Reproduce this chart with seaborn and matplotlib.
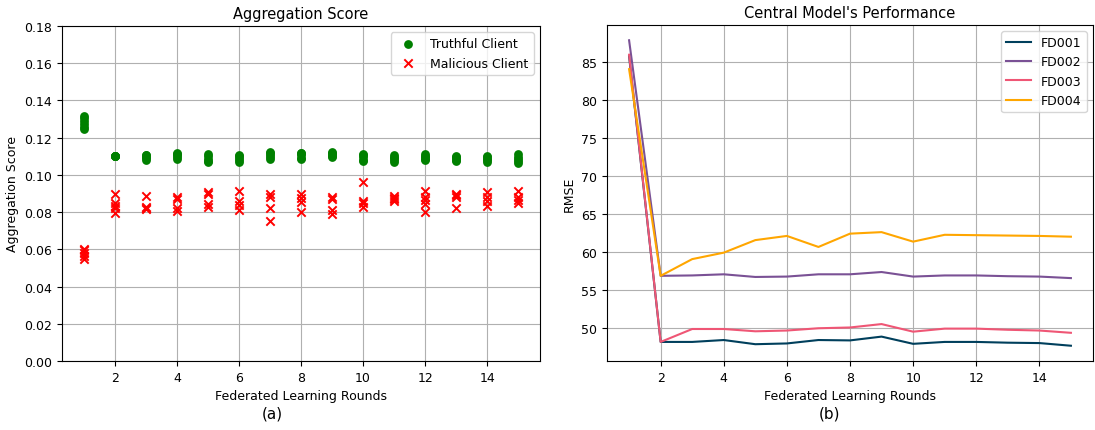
import numpy as np
import pandas as pd
import matplotlib
matplotlib.use("Agg")
import matplotlib.pyplot as plt
import seaborn as sns

rounds = list(range(1, 16))

# aggregation scores per round
truthful_scores = [
    [0.1247, 0.126, 0.1275, 0.129, 0.1305, 0.1315],
    [0.1103, 0.1103, 0.1102, 0.1104, 0.1103],
    [0.1082, 0.109, 0.1098, 0.1105, 0.1108],
    [0.1085, 0.1095, 0.1105, 0.1112, 0.1118],
    [0.1067, 0.1075, 0.1085, 0.1102, 0.111],
    [0.107, 0.108, 0.1092, 0.1105, 0.1102],
    [0.1088, 0.1095, 0.1108, 0.1115, 0.1122],
    [0.1085, 0.1092, 0.1105, 0.1115, 0.112],
    [0.1094, 0.1102, 0.111, 0.1118, 0.1122],
    [0.1075, 0.1082, 0.1095, 0.1105, 0.111],
    [0.107, 0.1078, 0.109, 0.1098, 0.1105],
    [0.108, 0.1088, 0.1095, 0.1102, 0.111],
    [0.1075, 0.1082, 0.109, 0.1097, 0.11],
    [0.107, 0.1078, 0.1085, 0.1095, 0.11],
    [0.1063, 0.1072, 0.1085, 0.1098, 0.111],
]
malicious_scores = [
    [0.0548, 0.0565, 0.058, 0.0595, 0.0603],
    [0.0795, 0.082, 0.0835, 0.0847, 0.0896],
    [0.0815, 0.0825, 0.0822, 0.0886],
    [0.0807, 0.082, 0.087, 0.0883],
    [0.083, 0.0842, 0.0897, 0.091],
    [0.0811, 0.0838, 0.0861, 0.0915],
    [0.0753, 0.082, 0.0883, 0.0897],
    [0.0802, 0.0856, 0.0874, 0.0897],
    [0.0789, 0.0811, 0.087, 0.0883],
    [0.0829, 0.0847, 0.0861, 0.0964],
    [0.086, 0.0868, 0.0874, 0.0886],
    [0.0798, 0.0843, 0.0865, 0.0883, 0.0915],
    [0.082, 0.0883, 0.089, 0.0897],
    [0.0835, 0.0861, 0.0883, 0.0906],
    [0.0847, 0.0865, 0.0883, 0.0915],
]

# central model RMSE per round
fd001 = [85.8, 48.2, 48.2, 48.45, 47.9, 48.0, 48.45, 48.4, 48.9, 47.95, 48.2, 48.2, 48.1, 48.05, 47.7]
fd002 = [87.9, 56.9, 56.95, 57.1, 56.75, 56.8, 57.1, 57.1, 57.4, 56.8, 56.95, 56.95, 56.85, 56.8, 56.6]
fd003 = [86.0, 48.2, 49.9, 49.9, 49.6, 49.7, 50.0, 50.1, 50.55, 49.55, 49.95, 49.95, 49.8, 49.7, 49.4]
fd004 = [84.1, 56.9, 59.1, 59.95, 61.6, 62.15, 60.7, 62.45, 62.65, 61.4, 62.3, 62.25, 62.2, 62.15, 62.05]

rows = []
for r, t, m in zip(rounds, truthful_scores, malicious_scores):
    rows += [(r, v, "Truthful Client") for v in t]
    rows += [(r, v, "Malicious Client") for v in m]
scores = pd.DataFrame(rows, columns=["round", "score", "client"])

rmse = pd.DataFrame({"round": rounds, "FD001": fd001, "FD002": fd002,
                     "FD003": fd003, "FD004": fd004})
rmse = rmse.melt(id_vars="round", var_name="dataset", value_name="rmse")

plt.rcParams.update({"font.size": 9, "axes.titlesize": 10.5, "axes.labelsize": 9,
                     "xtick.labelsize": 9, "ytick.labelsize": 9, "legend.fontsize": 9})

fig = plt.figure(figsize=(10.95, 4.31), dpi=100)
ax1 = fig.add_axes([62 / 1095, 1 - 362 / 431, 478 / 1095, 335 / 431])
ax2 = fig.add_axes([607 / 1095, 1 - 362 / 431, 486 / 1095, 336 / 431])

# (a) aggregation score
t = scores[scores.client == "Truthful Client"]
m = scores[scores.client == "Malicious Client"]
sns.scatterplot(data=t, x="round", y="score", color="green", marker="o", s=40,
                edgecolor="green", linewidth=0, label="Truthful Client", ax=ax1)
sns.scatterplot(data=m, x="round", y="score", color="red", marker="x", s=36,
                linewidth=1.4, label="Malicious Client", ax=ax1)
ax1.set_ylim(0, 0.18)
ax1.set_yticks(np.arange(0, 0.181, 0.02))
ax1.set_xticks(range(2, 15, 2))
ax1.set_title("Aggregation Score")
ax1.set_xlabel("Federated Learning Rounds")
ax1.set_ylabel("Aggregation Score")
ax1.grid(True)
ax1.set_axisbelow(True)
ax1.legend(loc="upper right")

# (b) central model performance
palette = ["#003f5c", "#7a5195", "#ef5675", "#ffa600"]
sns.lineplot(data=rmse, x="round", y="rmse", hue="dataset", palette=palette,
             linewidth=1.5, ax=ax2)
ax2.set_xticks(range(2, 15, 2))
ax2.set_title("Central Model's Performance")
ax2.set_xlabel("Federated Learning Rounds")
ax2.set_ylabel("RMSE")
ax2.grid(True)
ax2.set_axisbelow(True)
ax2.legend(loc="upper right")

fig.text(272 / 1095, 1 - 414 / 431, "(a)", ha="center", va="center", fontsize=11)
fig.text(829 / 1095, 1 - 414 / 431, "(b)", ha="center", va="center", fontsize=11)

fig.savefig("out.png", dpi=100)
